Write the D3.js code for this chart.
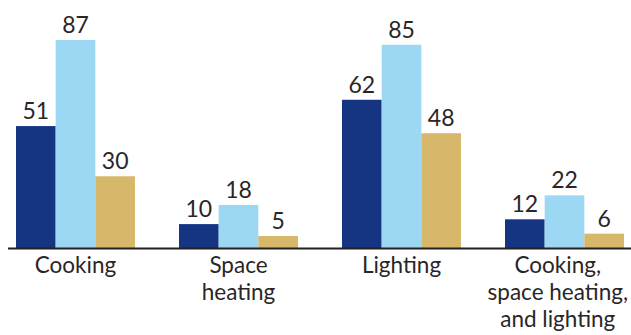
<!DOCTYPE html>
<html><head><meta charset="utf-8">
<script src="https://cdn.jsdelivr.net/npm/d3@7"></script>
<style>body{margin:0;background:#fff}svg{display:block}</style>
</head><body>
<script>
const categories = [["Cooking"], ["Space", "heating"], ["Lighting"], ["Cooking,", "space heating,", "and lighting"]];
const seriesNames = ["A", "B", "C"];
const seriesA = [51, 10, 62, 12];
const seriesB = [87, 18, 85, 22];
const seriesC = [30, 5, 48, 6];
const colors = ["#153481", "#9cd8f4", "#d7b76a"];

const W = 631, H = 335, base = 248;
const svg = d3.select("body").append("svg").attr("width", W).attr("height", H);
const font = "Lato, 'Open Sans', sans-serif";
const x0 = d3.scaleBand().domain(d3.range(categories.length)).range([16, 624]).paddingInner(0.27).paddingOuter(0);
const x1 = d3.scaleBand().domain(seriesNames).range([0, x0.bandwidth()]);
const y = d3.scaleLinear().domain([0, 87]).range([base, 40]);
const all = [seriesA, seriesB, seriesC];

const g = svg.selectAll("g.grp").data(categories).join("g").attr("transform", (d, i) => `translate(${x0(i)},0)`);
g.each(function(cat, i) {
  const sel = d3.select(this);
  seriesNames.forEach((s, j) => {
    const v = all[j][i];
    sel.append("rect").attr("x", x1(s)).attr("width", x1.bandwidth()).attr("y", y(v)).attr("height", base - y(v)).attr("fill", colors[j]);
    sel.append("text").attr("x", x1(s) + x1.bandwidth() / 2).attr("y", y(v) - 7).attr("text-anchor", "middle")
      .attr("font-family", font).attr("font-weight", 400).attr("font-size", 23).attr("fill", "#2a2627").text(v);
  });
  const t = sel.append("text").attr("text-anchor", "middle").attr("font-family", font).attr("font-weight", 400).attr("font-size", 22.5).attr("fill", "#2a2627");
  const tspans = cat.map((line, k) => t.append("tspan").attr("x", x0.bandwidth() / 2).attr("y", 273 + k * 27).text(line));
  // keep the label inside the picture
  const bb = t.node().getBBox();
  const gx = x0(i);
  const maxRight = W - 3;
  if (gx + bb.x + bb.width > maxRight) {
    const shift = maxRight - (gx + bb.x + bb.width);
    tspans.forEach(ts => ts.attr("x", x0.bandwidth() / 2 + shift));
  }
});
svg.append("line").attr("x1", 8).attr("x2", W).attr("y1", base + 0.5).attr("y2", base + 0.5).attr("stroke", "#231f20").attr("stroke-width", 2);
</script>
</body></html>
